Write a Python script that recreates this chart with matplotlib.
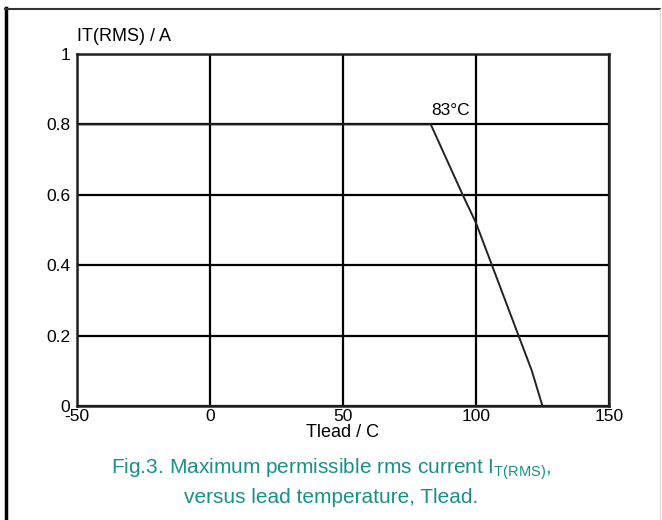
import matplotlib.pyplot as plt
from matplotlib.lines import Line2D

plt.rcParams['font.family'] = ['Liberation Sans', 'DejaVu Sans']
plt.rcParams['mathtext.fontset'] = 'custom'
plt.rcParams['mathtext.rm'] = 'Liberation Sans'
plt.rcParams['axes.unicode_minus'] = False

# derating curve: flat at 0.8 A up to 83 C, then falls to zero
t_lead = [-50, 83, 89, 95, 100, 106, 111, 116, 121, 125]
i_rms = [0.8, 0.8, 0.7, 0.6, 0.52, 0.4, 0.3, 0.2, 0.1, 0.0]

x_ticks = [-50, 0, 50, 100, 150]
y_ticks = [0, 0.2, 0.4, 0.6, 0.8, 1]
y_labels = ['0', '0.2', '0.4', '0.6', '0.8', '1']

teal = '#1a9088'

fig = plt.figure(figsize=(6.62, 5.2), dpi=100)
ax = fig.add_axes([0.1163, 0.2192, 0.8036, 0.677])

ax.plot(t_lead, i_rms, color='#222222', lw=1.4, zorder=3)
ax.text(83, 0.818, '83°C', fontsize=12.5, ha='left', va='bottom')

ax.set_xlim(-50, 150)
ax.set_ylim(0, 1)
ax.set_xticks(x_ticks)
ax.set_yticks(y_ticks)
ax.set_yticklabels(y_labels)
ax.tick_params(length=0, labelsize=12.5)
ax.tick_params(axis='x', pad=2)
ax.tick_params(axis='y', pad=5)
ax.grid(True, color='black', lw=1.6)
for s in ax.spines.values():
    s.set_linewidth(1.8)
    s.set_color('#222222')

# "0" sits a bit high, "-50" a bit low at the shared corner
ax.get_yticklabels()[0].set_y(0.012)

ax.text(-50, 1.025, 'IT(RMS) / A', fontsize=13, ha='left', va='bottom')
ax.set_xlabel('Tlead / C', fontsize=13, labelpad=0)

fig.text(0.5, 0.098, r'Fig.3. Maximum permissible rms current I$_{\mathrm{T(RMS)}}$,',
         ha='center', va='center', fontsize=15, color=teal)
fig.text(0.5, 0.043, 'versus lead temperature, Tlead.',
         ha='center', va='center', fontsize=15, color=teal)

# page frame around the figure
fig.add_artist(Line2D([6 / 662, 6 / 662], [0, 1 - 8 / 520], color='black', lw=2.5,
                      transform=fig.transFigure))
fig.add_artist(Line2D([5 / 662, 660 / 662], [1 - 9 / 520, 1 - 9 / 520], color='#333333', lw=1.5,
                      transform=fig.transFigure))
fig.add_artist(Line2D([660 / 662, 660 / 662], [0, 1 - 9 / 520], color='#dddddd', lw=1,
                      transform=fig.transFigure))

fig.savefig('out.png', dpi=100)
